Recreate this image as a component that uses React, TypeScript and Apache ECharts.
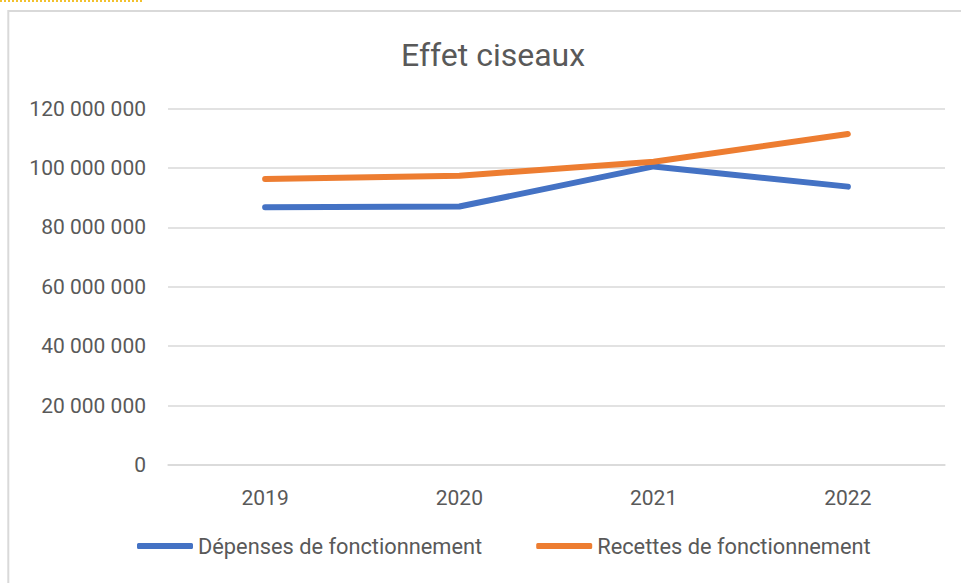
import React, { useEffect, useRef } from "react";
import * as echarts from "echarts";

const years = ["2019", "2020", "2021", "2022"];
const depenses = [86800000, 87000000, 100500000, 93700000];
const recettes = [96300000, 97400000, 102100000, 111400000];
const seriesNames = ["Dépenses de fonctionnement", "Recettes de fonctionnement"];
const titleText = "Effet ciseaux";

const FONT = "Roboto";
const TXT = "#595959";
const GRID = "#d9d9d9";

function fmt(v: number): string {
  return String(v).replace(/\B(?=(\d{3})+(?!\d))/g, " ");
}

export default function App() {
  const ref = useRef<HTMLDivElement>(null);
  useEffect(() => {
    if (!ref.current) return;
    const chart = echarts.init(ref.current, null, { renderer: "svg" });
    chart.setOption({
      animation: false,
      backgroundColor: "#ffffff",
      title: {
        text: titleText,
        left: 401,
        top: 39,
        padding: 0,
        textStyle: { fontFamily: FONT, fontSize: 32, fontWeight: "normal", color: TXT },
      },
      graphic: [
        {
          type: "rect",
          shape: { x: 8.3, y: 11, width: 1200, height: 1200 },
          style: { fill: "none", stroke: GRID, lineWidth: 2 },
          silent: true,
        },
        {
          type: "line",
          shape: { x1: 0, y1: 1, x2: 143, y2: 1 },
          style: { stroke: "#f2c12e", lineWidth: 2, lineDash: [2, 2] },
          silent: true,
        },
      ],
      grid: { left: 168, right: 16, top: 108.5, bottom: 118 },
      legend: {
        left: 137,
        top: 535,
        padding: 0,
        itemWidth: 56,
        itemHeight: 6,
        itemGap: 54,
        icon: "roundRect",
        textStyle: { fontFamily: FONT, fontSize: 21.8, color: TXT, padding: [0, 0, 0, 0] },
        data: seriesNames,
      },
      xAxis: {
        type: "category",
        data: years,
        boundaryGap: true,
        axisLine: { lineStyle: { color: GRID, width: 1.5 } },
        axisTick: { show: false },
        axisLabel: { fontFamily: FONT, fontSize: 21, color: TXT, margin: 22 },
      },
      yAxis: {
        type: "value",
        min: 0,
        max: 120000000,
        interval: 20000000,
        axisLine: { show: false },
        axisTick: { show: false },
        splitLine: { lineStyle: { color: GRID, width: 1.5 } },
        axisLabel: {
          fontFamily: FONT,
          fontSize: 21,
          color: TXT,
          margin: 22,
          formatter: (v: number) => fmt(v),
        },
      },
      series: [
        {
          name: seriesNames[0],
          type: "line",
          data: depenses,
          symbol: "none",
          lineStyle: { color: "#4472c4", width: 6, cap: "round", join: "round" },
          itemStyle: { color: "#4472c4" },
        },
        {
          name: seriesNames[1],
          type: "line",
          data: recettes,
          symbol: "none",
          lineStyle: { color: "#ed7d31", width: 6, cap: "round", join: "round" },
          itemStyle: { color: "#ed7d31" },
        },
      ],
    });
    return () => chart.dispose();
  }, []);
  return (
    <div
      ref={ref}
      style={{ position: "absolute", left: 0, top: 0, width: 961, height: 583 }}
    />
  );
}
